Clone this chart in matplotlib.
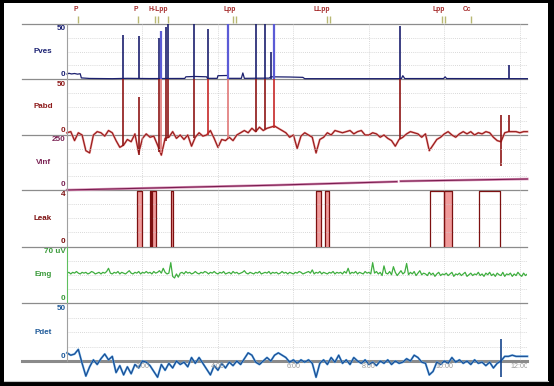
import numpy as np
import matplotlib
matplotlib.use('Agg')
import matplotlib.pyplot as plt
from matplotlib.lines import Line2D
from matplotlib.patches import Rectangle
from matplotlib.transforms import Bbox, blended_transform_factory

plt.rcParams['font.family'] = ['Liberation Sans', 'DejaVu Sans']

W, H = 554, 386          # output size in px (saved at dpi 100)
L, R = 67, 527           # left / right edge of the trace area in px
T_MAX = 12.19            # minutes across the trace area

# ---- event markers along the top ----
event_times = [0.29, 1.88, 2.32, 2.40, 2.68, 4.40, 4.48, 6.88, 6.97, 9.93, 10.01, 10.70]
event_labels = ['P', 'P', '', '', 'H-Lpp', '', 'Lpp', '', 'LLpp', '', 'Lpp', 'Cc']

# ---- time axis ----
time_ticks = [2, 4, 6, 8, 10, 12]
time_labels = ['2:00', '4:00', '6:00', '8:00', '10:00', '12:00']

# ---- channels ----
channels = ['Pves', 'Pabd', 'Vinf', 'Leak', 'Emg', 'Pdet']
scale_max = [50, 50, 250, 4, 70, 50]
scale_top = ['50', '50', '250', '4', '70 uV', '50']

# Pves baseline (cmH2O) and its artefact spikes
pves_t = [0.00, 0.05, 0.12, 0.20, 0.28, 0.35, 0.38, 0.60, 1.20, 1.60, 2.20, 3.12,
          3.15, 3.40, 3.70, 3.72, 3.98, 4.00, 4.25, 4.28, 4.62, 4.66, 4.70, 5.36,
          5.40, 5.90, 6.25, 6.30, 8.86, 8.90, 8.95, 9.98, 10.02, 10.06, 12.20]
pves_v = [4.5, 5.2, 4.6, 5.0, 4.4, 4.8, 1.0, 0.5, 0.3, 0.6, 0.4, 0.5,
          2.0, 2.3, 2.0, 0.6, 0.6, 3.0, 3.2, 0.6, 0.6, 5.5, 0.6, 0.8,
          2.0, 1.8, 1.5, 0.3, 0.3, 3.0, 0.4, 0.4, 2.0, 0.4, 0.3]
pves_spike_t = [1.475, 1.907, 2.445, 2.498, 2.62, 2.68, 3.36, 3.73, 4.27, 5.01, 5.26, 5.40, 5.49, 8.82, 11.71]
pves_spike_v = [40, 39, 37, 44, 47, 50, 50, 45, 50, 50, 50, 25, 50, 48, 13]

# Pabd, Pdet sampled every 0.1 min
pabd = [2, 3, -5, 2, 0, -14, -16, 0, 3, 2,
        -1, 4, 2, -5, -11, -9, -4, -6, 1, -16,
        -3, 1, -2, -1, -9, -18, -3, -2, 3, -3,
        0, -4, 0, -10, -2, 2, -1, 0, 4, -3,
        -11, -4, -5, -2, -5, 0, 2, 4, 2, 6,
        3, 7, 4, 6, 7, 8, 6, 4, 2, -2,
        0, -12, -1, 2, 0, -2, -16, -4, -2, 2,
        0, 4, 3, 2, 3, 4, 1, 3, 4, 0,
        0, 2, 1, -2, 0, -3, -5, -10, -4, -2,
        1, 3, 2, 1, -2, 1, -14, -9, -4, -2,
        1, 3, 0, -2, 1, 3, 1, 3, 0, 2,
        1, 3, 2, -2, -5, -6, 2, 3, 3, 3,
        2, 3, 3]
pabd_spike_t = [1.475, 1.907, 2.445, 2.498, 2.62, 2.68, 3.36, 3.73, 4.27, 5.01, 5.26, 5.49, 8.82, 11.50, 11.71]
pabd_spike_top = [50, 34, 50, 50, 50, 50, 50, 50, 50, 50, 50, 50, 50, 18, 18]
pabd_spike_bottom = [-10, -18, -15, -16, -5, -3, -3, 0, -3, 3, 5, 6, -4, -28, 3]

pdet = [7, 5, 6, 10, -2, -13, -5, 1, -3, 2,
        6, 1, 4, -10, -4, -12, -5, -11, -3, -6,
        0, -1, -4, -9, -14, -3, -8, -2, -6, 0,
        -3, -1, -5, 3, -2, 3, -2, -7, -12, -4,
        -8, -2, -6, -1, -4, 0, -3, 2, 7, 5,
        -1, -3, 0, 3, 0, 5, 7, 5, 3, -1,
        1, -2, 1, -1, 1, -2, -14, -2, 1, -3,
        3, -1, 5, -2, 1, -3, 3, 0, -2, 1,
        -3, -1, -4, 0, -2, 1, -3, 0, -2, -1,
        2, 0, 5, 3, -1, -2, -12, -9, -1, -3,
        0, -2, 3, -1, 1, -2, 0, -3, 1, -2,
        -1, -4, -1, -6, -2, 0, 4, 4, 5, 4,
        4, 4, 4]
pdet_spike_t = [11.50]
pdet_spike_top = [19]
pdet_spike_bottom = [-14]

# infused volume (ml)
vinf_t = [0.0, 0.5, 3.0, 5.5, 8.74, 8.76, 8.84, 12.2]
vinf_v = [0, 2, 12, 22, 38, np.nan, 40, 50]

# leak pulses
leak_start = [1.85, 2.19, 2.25, 2.75, 6.60, 6.83, 9.62, 9.99, 10.91]
leak_end = [1.99, 2.23, 2.37, 2.82, 6.72, 6.94, 9.99, 10.19, 11.47]
leak_level = [3.9, 3.9, 3.9, 3.9, 3.9, 3.9, 3.9, 3.9, 3.9]

# Emg (uV) sampled every 0.05 min
emg = [37, 38, 36, 38, 37, 39, 37, 36, 38, 37, 38, 36, 37, 39, 38, 36, 37, 38, 36, 38,
       37, 39, 43, 37, 36, 38, 37, 39, 36, 38, 37, 36, 38, 40, 37, 36, 38, 37, 39, 36,
       38, 37, 39, 37, 38, 36, 39, 37, 38, 40, 37, 43, 38, 36, 37, 50, 33, 31, 36, 32,
       37, 38, 36, 39, 37, 38, 36, 37, 39, 37, 36, 38, 37, 39, 38, 36, 38, 37, 39, 37,
       36, 38, 37, 39, 36, 37, 38, 36, 39, 37, 38, 36, 37, 38, 40, 37, 36, 38, 37, 36,
       38, 37, 39, 36, 37, 38, 37, 39, 36, 38, 37, 38, 36, 37, 39, 37, 38, 36, 38, 37,
       36, 38, 37, 39, 38, 36, 37, 38, 39, 37, 41, 36, 38, 37, 39, 36, 38, 37, 36, 38,
       37, 39, 36, 38, 37, 38, 36, 39, 37, 43, 36, 38, 37, 39, 36, 38, 37, 36, 39, 37,
       38, 36, 50, 37, 39, 36, 38, 34, 46, 37, 36, 39, 35, 45, 38, 34, 37, 40, 36, 38,
       49, 35, 38, 36, 39, 34, 37, 40, 35, 37, 36, 34, 38, 35, 37, 33, 36, 38, 34, 36,
       35, 37, 34, 36, 38, 33, 36, 35, 37, 34, 36, 38, 33, 35, 37, 34, 36, 35, 38, 34,
       36, 33, 37, 35, 38, 34, 36, 33, 37, 35, 34, 38, 33, 36, 35, 37, 33, 36, 34, 38,
       35, 33, 37, 34, 36]

trace_t = np.linspace(0, 12.2, len(pabd))
emg_t = np.linspace(0, 12.2, len(emg))

# panel boundaries, px from the top
rows = [24, 79, 135, 190, 246.5, 303, 361]
colors = ['#1c2273', '#8e1b1b', '#7b2455', '#7d1010', '#3a9a3a', '#1f5a99']


def fx(px):
    return px / W


def fy(py):
    return 1 - py / H


def make_panel(fig, top, bottom, ymax, spine_color):
    ax = fig.add_axes([fx(L), fy(bottom), fx(R) - fx(L), fy(top) - fy(bottom)])
    ax.patch.set_visible(False)
    ax.set_xlim(0, T_MAX)
    ax.set_ylim(0, ymax)
    for side in ['top', 'right', 'bottom']:
        ax.spines[side].set_visible(False)
    ax.spines['left'].set_color(spine_color)
    ax.spines['left'].set_linewidth(0.8)
    ax.set_xticks(time_ticks)
    ax.set_yticks([ymax * 0.25, ymax * 0.5, ymax * 0.75])
    ax.tick_params(length=0, labelbottom=False, labelleft=False)
    ax.grid(True, color='#cdcdcd', linestyle=(0, (1, 1.5)), linewidth=0.6)
    return ax


def main():
    fig = plt.figure(figsize=(W / 100, H / 100), dpi=100)
    fig.patch.set_facecolor('black')
    fig.add_artist(Rectangle((fx(4), fy(381)), fx(548) - fx(4), fy(3) - fy(381),
                             transform=fig.transFigure, facecolor='white',
                             edgecolor='none', zorder=-10))
    fig.add_artist(Line2D([fx(4), fx(548)], [fy(381), fy(381)], color='#c4c4c4', lw=0.8, zorder=-5))

    # separators
    for y in rows[:-1]:
        fig.add_artist(Line2D([fx(22), fx(R)], [fy(y), fy(y)], color='#8c8c8c', lw=0.9, zorder=-1))
    fig.add_artist(Line2D([fx(22), fx(R)], [fy(rows[-1]), fy(rows[-1])], color='#8a8a8a', lw=2.2, zorder=-1))

    axes = []
    for i, name in enumerate(channels):
        top, bottom = rows[i], rows[i + 1]
        spine = '#5fbf5f' if name == 'Emg' else '#a0a0a0'
        ax = make_panel(fig, top, bottom, scale_max[i], spine)
        axes.append(ax)
        fig.text(fx(43), fy((top + bottom) / 2), name, ha='center', va='center',
                 color=colors[i], fontsize=5.8, weight='bold')
        fig.text(fx(65.5), fy(top + 1.5), scale_top[i], ha='right', va='top',
                 color=colors[i], fontsize=5.9, weight='bold')
        fig.text(fx(65.5), fy(bottom - 1.5), '0', ha='right', va='bottom',
                 color=colors[i], fontsize=5.9, weight='bold')

    ax_pves, ax_pabd, ax_vinf, ax_leak, ax_emg, ax_pdet = axes

    # Pves
    ax_pves.plot(pves_t, pves_v, color='#1b1f6e', lw=0.9, clip_on=False)
    light = [3, 8, 12]
    pc = ['#5b5bd6' if k in light else '#1b1f6e' for k in range(len(pves_spike_t))]
    pw = [1.6 if k in light else 1.2 for k in range(len(pves_spike_t))]
    ax_pves.vlines(pves_spike_t, 0, pves_spike_v, colors=pc, linewidths=pw)

    # Pabd
    ax_pabd.plot(trace_t, pabd, color='#e58a8a', lw=1.5, clip_on=False)
    ax_pabd.plot(trace_t, pabd, color='#8e1515', lw=0.7, clip_on=False)
    ac = []
    for k in range(len(pabd_spike_t)):
        if k in (3, 8):
            ac.append('#e07878')
        elif k in (7, 11):
            ac.append('#c62828')
        else:
            ac.append('#8e1515')
    ax_pabd.vlines(pabd_spike_t, pabd_spike_bottom, pabd_spike_top, colors=ac,
                   linewidths=1.2, clip_on=False)

    # Vinf
    ax_vinf.plot(vinf_t, vinf_v, color='#d78db4', lw=1.8, clip_on=False)
    ax_vinf.plot(vinf_t, vinf_v, color='#7a1e50', lw=0.8, clip_on=False)

    # Leak
    filled = [True, True, True, True, True, True, False, True, False]
    for s, e, h, f in zip(leak_start, leak_end, leak_level, filled):
        if f:
            ax_leak.fill_between([s, e], 0, h, color='#f09a9a', lw=0)
        ax_leak.plot([s, s, e, e], [0, h, h, 0], color='#7d1010', lw=0.9)

    # Emg
    ax_emg.plot(emg_t, emg, color='#3fae3f', lw=0.9)

    # Pdet
    ax_pdet.plot(trace_t, pdet, color='#5aa0dc', lw=1.5, clip_on=False)
    ax_pdet.plot(trace_t, pdet, color='#17468c', lw=0.7, clip_on=False)
    ax_pdet.vlines(pdet_spike_t, pdet_spike_bottom, pdet_spike_top, colors='#17468c',
                   linewidths=1.2, clip_on=False)

    # time labels under Pdet, cut at the right edge
    trans = blended_transform_factory(ax_pdet.transData, ax_pdet.transAxes)
    clip = Bbox.from_extents(0, 0, R, H)
    for t, lab in zip(time_ticks, time_labels):
        txt = ax_pdet.text(t, -0.10, lab, transform=trans, ha='center', va='center',
                           color='#9a9a9a', fontsize=5.1)
        txt.set_clip_on(True)
        txt.set_clip_box(clip)

    # event row
    ev = fig.add_axes([fx(L), fy(24), fx(R) - fx(L), fy(2) - fy(24)])
    ev.set_xlim(0, T_MAX)
    ev.set_ylim(0, 1)
    ev.axis('off')
    ev.vlines(event_times, 0.05, 0.36, colors='#b8b874', linewidths=1.0)
    for t, lab in zip(event_times, event_labels):
        if lab:
            ev.text(t, 0.64, lab, ha='right', va='center', color='#a52a2a',
                    fontsize=4.8, weight='bold')

    fig.savefig('out.png', dpi=100, facecolor=fig.get_facecolor())
    plt.close(fig)


if __name__ == "__main__":
    main()
